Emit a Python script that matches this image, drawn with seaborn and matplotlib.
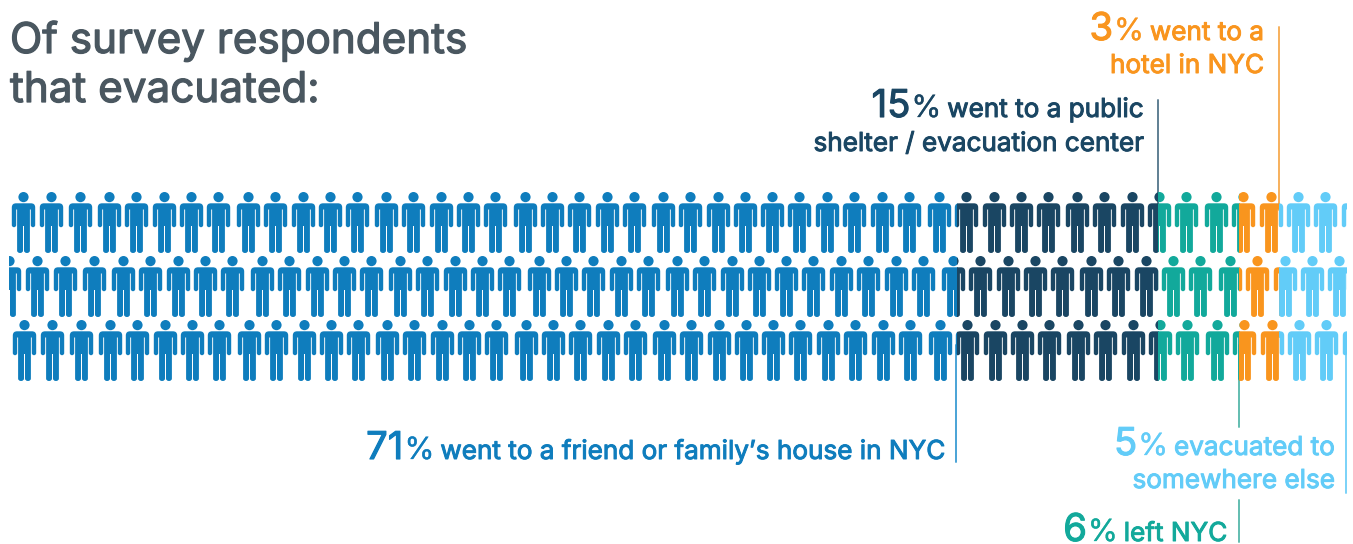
import numpy as np
import pandas as pd
import seaborn as sns
import matplotlib.pyplot as plt
import matplotlib.patheffects as pe
from matplotlib.path import Path
from matplotlib.patches import Rectangle

# shares of respondents, bands run left to right
categories = ['friend_family', 'public_shelter', 'left_nyc', 'hotel', 'elsewhere']
shares = [71, 15, 6, 3, 5]
colors = ['#0f7dbd', '#1a4663', '#12a99b', '#f9951e', '#62ccf8']
line_colors = ['#4aa3d6', '#5f7f93', '#62bdb0', '#f7b05c', '#7ad2f8']

# horizontal spots of the figures in the first row
person_x = [23, 51, 80, 109, 136, 164, 191, 218, 248, 275, 303, 330, 357, 386, 413, 441, 468,
            495, 525, 552, 579, 607, 634, 663, 690, 718, 745, 772, 799, 827, 854, 882, 909,
            939, 966, 994, 1021, 1048, 1077, 1104, 1132, 1159, 1186, 1216, 1243, 1271, 1298,
            1325, 1353]
row_y = [221.5, 285.5, 349.5]
row_shift = [0, 14, 0.7]

W, H = 1353, 544
X0, X_SPAN = 3, 13.43  # pixel of 0% and pixels per percent
LEFT_EDGE = 9
FONT = 'Inter'
TEXT_SIZE = 18.8


def person_marker():
    # stick figure, y up, mirrored around x=0
    M, L, C = Path.MOVETO, Path.LINETO, Path.CURVE3
    right = [(7.5, 19.2), (11.7, 19.2), (11.7, 15), (11.7, -2.5), (11.7, -4.7), (9.5, -4.7),
             (7.3, -4.7), (7.3, -2.5), (7.3, 13), (6.4, 13), (6.4, -28), (6.4, -30.5), (3.45, -30.5),
             (0.5, -30.5), (0.5, -28), (0.5, -3.5)]
    right_codes = [M, C, C, L, C, C, C, C, L, L, L, C, C, C, C, L]
    left = [(-x, y) for x, y in reversed(right)]
    left_codes = [L, L, C, C, C, C, L, L, L, C, C, C, C, L, C, C]
    body = Path(right + left + [right[0]], right_codes + left_codes + [Path.CLOSEPOLY])
    head = Path.circle((0, 25.4), 5.1)
    return Path.make_compound_path(body, head)


sns.set_theme(style='white')
plt.rcParams['font.family'] = [FONT, 'DejaVu Sans']

fig, ax = plt.subplots(figsize=(W / 100, H / 100), dpi=100)
fig.subplots_adjust(0, 0, 1, 1)
ax.set_xlim(0, W)
ax.set_ylim(H, 0)

rows = []
for y, shift in zip(row_y, row_shift):
    rows.append(pd.DataFrame({'x': np.array(person_x) + shift, 'y': y}))
rows.append(pd.DataFrame({'x': [person_x[0] - 14], 'y': [row_y[1]]}))
people = pd.concat(rows, ignore_index=True)

edges = X0 + np.cumsum([0] + shares) * X_SPAN
edges[0] = LEFT_EDGE

# leader lines go under the figures: (category, top, bottom)
leaders = [(0, 345, 462), (1, 100, 205), (3, 27, 210), (2, 345, 427), (2, 500, 542), (4, 345, 493)]
for i, top, bottom in leaders:
    ax.plot([edges[i + 1] - (1 if i == 0 else 0)] * 2, [top, bottom], color=line_colors[i], lw=1.4, zorder=1)

marker = person_marker()
for i, name in enumerate(categories):
    lo, hi = edges[i], edges[i + 1]
    part = people[(people.x > lo - 13) & (people.x < hi + 13)]
    before = len(ax.collections)
    sns.scatterplot(data=part, x='x', y='y', ax=ax, marker=marker, s=1929, color=colors[i],
                    linewidth=0, legend=False, zorder=2)
    ax.collections[before].set_clip_path(Rectangle((lo, 0), hi - lo, H, transform=ax.transData))
ax.axis('off')

fig.canvas.draw()
renderer = fig.canvas.get_renderer()


def bold_text(x, y, s, color, size=TEXT_SIZE, stroke=0.7, ha='right'):
    # Inter only comes in one weight here, a thin stroke gives the heavier look
    t = ax.text(x, y, s, ha=ha, va='baseline', color=color, fontsize=size)
    t.set_path_effects([pe.withStroke(linewidth=stroke, foreground=color)])
    return t


def label(right, base, number, rest, color, gap=6):
    # text flush right, then the % and the big number stacked to its left
    t = bold_text(right, base, rest, color)
    x = t.get_window_extent(renderer).x0 - gap
    p = bold_text(x, base, '%', color, size=22, stroke=0.2)
    x = p.get_window_extent(renderer).x0 - 1
    bold_text(x, base, number, color, size=27.5, stroke=0.8)


bold_text(10, 53, 'Of survey respondents', '#4a5760', size=30.4, stroke=0.9, ha='left')
bold_text(10, 102, 'that evacuated:', '#4a5760', size=30.4, stroke=0.9, ha='left')

label(1264, 40, '3', 'went to a', colors[3])
bold_text(1264, 73, 'hotel in NYC', colors[3])
label(1144, 117, '15', 'went to a public', colors[1])
bold_text(1144, 151, 'shelter / evacuation center', colors[1])
label(945, 459, '71', 'went to a friend or family\u2019s house in NYC', colors[0])
label(1335, 455, '5', 'evacuated to', colors[4])
bold_text(1335, 488, 'somewhere else', colors[4])
label(1227, 541, '6', 'left NYC', colors[2])

fig.savefig('out.png', dpi=100)
